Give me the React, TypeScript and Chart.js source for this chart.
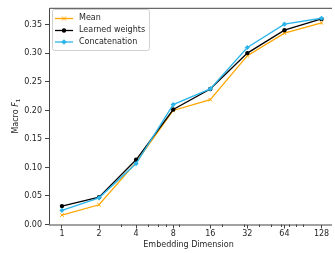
import React, { useEffect, useRef } from "react";
import { Chart, registerables } from "chart.js";

Chart.register(...registerables);

const dims = [1, 2, 4, 8, 16, 32, 64, 128];
const meanVals = [0.0166, 0.0346, 0.109, 0.2, 0.219, 0.296, 0.3355, 0.3535];
const learnedVals = [0.0323, 0.048, 0.1135, 0.2016, 0.2377, 0.3006, 0.3407, 0.3604];
const concatVals = [0.0248, 0.0468, 0.1068, 0.2103, 0.2377, 0.3104, 0.3512, 0.3617];
const yTicks = [0, 0.05, 0.1, 0.15, 0.2, 0.25, 0.3, 0.35];
const xMinorTicks = [3, 5, 6, 7, 9, 20, 30, 40, 50, 60, 70, 80, 90];
const seriesNames = ["Mean", "Learned weights", "Concatenation"];

const ORANGE = "#ffa500";
const BLACK = "#000000";
const BLUE = "#2cb5ea";
const FONT = "DejaVu Sans";
const FS = 8;
const TEXT = "#262626";
const SPINE = "#444444";

function drawMarker(ctx: CanvasRenderingContext2D, kind: string, x: number, y: number, color: string) {
  ctx.save();
  ctx.fillStyle = color;
  ctx.strokeStyle = color;
  ctx.lineWidth = 1;
  if (kind === "cross") {
    const r = 2;
    ctx.beginPath();
    ctx.moveTo(x - r, y - r);
    ctx.lineTo(x + r, y + r);
    ctx.moveTo(x - r, y + r);
    ctx.lineTo(x + r, y - r);
    ctx.stroke();
  } else if (kind === "circle") {
    ctx.beginPath();
    ctx.arc(x, y, 2.2, 0, Math.PI * 2);
    ctx.fill();
  } else {
    const r = 2.8;
    ctx.beginPath();
    ctx.moveTo(x, y - r);
    ctx.lineTo(x + r, y);
    ctx.lineTo(x, y + r);
    ctx.lineTo(x - r, y);
    ctx.closePath();
    ctx.fill();
  }
  ctx.restore();
}

const framePlugin = {
  id: "frame",
  afterDraw(chart: any) {
    const ctx: CanvasRenderingContext2D = chart.ctx;
    const a = chart.chartArea;
    const xs = chart.scales.x;
    ctx.save();
    ctx.strokeStyle = SPINE;
    ctx.lineWidth = 1;
    ctx.beginPath();
    ctx.moveTo(a.left + 0.5, a.bottom);
    ctx.lineTo(a.left + 0.5, a.top + 0.5);
    ctx.lineTo(a.right + 2, a.top + 0.5);
    ctx.moveTo(a.left, a.bottom + 0.5);
    ctx.lineTo(a.right + 2, a.bottom + 0.5);
    ctx.stroke();
    ctx.beginPath();
    for (const v of xMinorTicks) {
      const px = Math.round(xs.getPixelForValue(v)) + 0.5;
      ctx.moveTo(px, a.bottom);
      ctx.lineTo(px, a.bottom + 2.5);
    }
    ctx.stroke();

    ctx.fillStyle = TEXT;
    ctx.font = `${FS}px "${FONT}"`;
    ctx.textAlign = "center";
    ctx.textBaseline = "middle";
    ctx.fillText("Embedding Dimension", (a.left + a.right) / 2 - 1, 245);

    ctx.save();
    ctx.translate(15, (a.top + a.bottom) / 2);
    ctx.rotate(-Math.PI / 2);
    const f1 = `${FS}px "${FONT}"`;
    const fi = `italic ${FS}px "${FONT}"`;
    const fs = `${FS * 0.7}px "${FONT}"`;
    ctx.font = f1;
    const w1 = ctx.measureText("Macro ").width;
    ctx.font = fi;
    const w2 = ctx.measureText("F").width;
    ctx.font = fs;
    const w3 = ctx.measureText("1").width;
    const total = w1 + w2 + w3;
    let x0 = -total / 2;
    ctx.textAlign = "left";
    ctx.textBaseline = "alphabetic";
    ctx.font = f1;
    ctx.fillText("Macro ", x0, 3);
    x0 += w1;
    ctx.font = fi;
    ctx.fillText("F", x0, 3);
    x0 += w2;
    ctx.font = fs;
    ctx.fillText("1", x0, 4.8);
    ctx.restore();

    const bx = 52.5, by = 9.5, bw = 97, bh = 41;
    ctx.fillStyle = "rgba(255,255,255,0.8)";
    ctx.strokeStyle = "#d0d0d0";
    ctx.lineWidth = 1;
    ctx.beginPath();
    (ctx as any).roundRect(bx, by, bw, bh, 2);
    ctx.fill();
    ctx.stroke();
    const colors = [ORANGE, BLACK, BLUE];
    const kinds = ["cross", "circle", "diamond"];
    const ys = [18.5, 30.5, 42];
    for (let i = 0; i < 3; i++) {
      ctx.strokeStyle = colors[i];
      ctx.lineWidth = 1.3;
      ctx.beginPath();
      ctx.moveTo(55, ys[i]);
      ctx.lineTo(73, ys[i]);
      ctx.stroke();
      drawMarker(ctx, kinds[i], 64, ys[i], colors[i]);
      ctx.fillStyle = TEXT;
      ctx.font = `${FS}px "${FONT}"`;
      ctx.textAlign = "left";
      ctx.textBaseline = "middle";
      ctx.fillText(seriesNames[i], 79, ys[i] - 0.5);
    }
    ctx.restore();
  },
};

export default function App() {
  const ref = useRef<HTMLCanvasElement | null>(null);
  useEffect(() => {
    document.body.style.margin = "0";
    if (!ref.current) return;
    const mk = (vals: number[]) => dims.map((d, i) => ({ x: d, y: vals[i] }));
    const chart = new Chart(ref.current, {
      type: "line",
      data: {
        datasets: [
          {
            label: seriesNames[0],
            data: mk(meanVals),
            borderColor: ORANGE,
            backgroundColor: ORANGE,
            borderWidth: 1.3,
            pointStyle: "crossRot",
            pointRadius: 2.5,
            pointBorderWidth: 1,
            order: 2,
          },
          {
            label: seriesNames[1],
            data: mk(learnedVals),
            borderColor: BLACK,
            backgroundColor: BLACK,
            borderWidth: 1.3,
            pointStyle: "circle",
            pointRadius: 2.2,
            pointBorderWidth: 0,
            order: 1,
          },
          {
            label: seriesNames[2],
            data: mk(concatVals),
            borderColor: BLUE,
            backgroundColor: BLUE,
            borderWidth: 1.3,
            pointStyle: "rectRot",
            pointRadius: 2.6,
            pointBorderWidth: 0,
            order: 0,
          },
        ],
      },
      options: {
        animation: false,
        responsive: false,
        devicePixelRatio: 1,
        layout: { padding: { top: 7, left: 0, right: 0, bottom: 0 } },
        plugins: { legend: { display: false }, tooltip: { enabled: false } },
        scales: {
          x: {
            type: "logarithmic",
            min: 0.785,
            max: 150,
            afterBuildTicks: (s: any) => {
              s.ticks = dims.map((v) => ({ value: v }));
            },
            afterFit: (s: any) => {
              s.height = 28.5;
            },
            ticks: {
              autoSkip: false,
              maxRotation: 0,
              padding: 1,
              color: TEXT,
              font: { family: FONT, size: FS },
              callback: (v: any) => String(v),
            },
            grid: { drawOnChartArea: false, drawTicks: true, tickLength: 4, color: SPINE },
            border: { display: false },
          },
          y: {
            type: "linear",
            min: 0,
            max: 0.38,
            afterBuildTicks: (s: any) => {
              s.ticks = yTicks.map((v) => ({ value: v }));
            },
            afterFit: (s: any) => {
              s.width = 49;
            },
            ticks: {
              padding: 3,
              color: TEXT,
              font: { family: FONT, size: FS },
              callback: (v: any) => Number(v).toFixed(2),
            },
            grid: { drawOnChartArea: false, drawTicks: true, tickLength: 4, color: SPINE },
            border: { display: false },
          },
        },
      },
      plugins: [framePlugin],
    } as any);
    return () => chart.destroy();
  }, []);
  return (
    <div style={{ position: "fixed", left: 0, top: 0, width: 335, height: 253, background: "#fff" }}>
      <canvas ref={ref} width={335} height={253} style={{ display: "block" }} />
    </div>
  );
}
